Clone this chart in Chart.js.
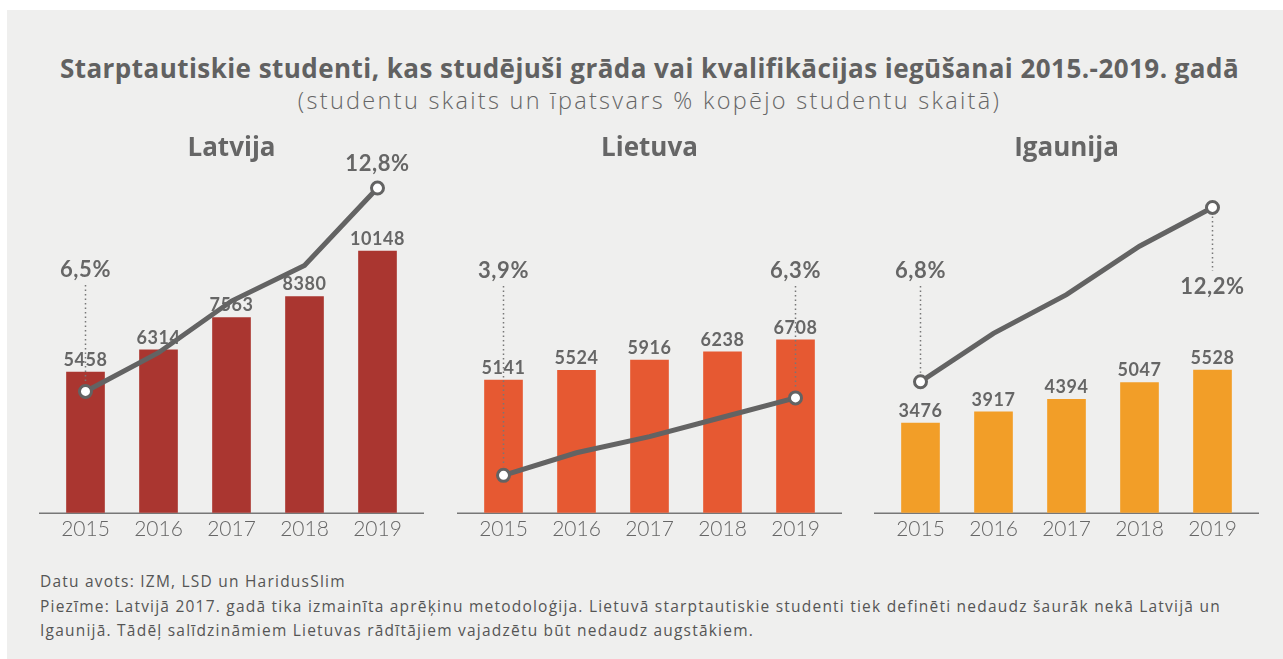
<!DOCTYPE html>
<html>
<head>
<meta charset="utf-8">
<script src="https://cdn.jsdelivr.net/npm/chart.js@4.4.1/dist/chart.umd.min.js"></script>
<style>
  body { margin: 0; width: 1283px; height: 659px; background: #fff; overflow: hidden; font-family: "Open Sans", Lato, sans-serif; color: #666; }
  #panel { position: absolute; left: 7px; top: 10px; width: 1276px; height: 649px; background: #efefee; }
  .t { position: absolute; white-space: nowrap; }
  #title { left: 16px; width: 1267px; top: 53px; line-height: 30px; font-size: 26px; font-weight: 700; text-align: center; color: #616161; letter-spacing: 0.45px; }
  #sub { left: 16px; width: 1267px; top: 85px; line-height: 30px; font-size: 23.5px; font-weight: 300; text-align: center; color: #666; letter-spacing: 2.3px; }
  #note { left: 40px; top: 569px; font-size: 15.5px; line-height: 24.5px; color: #555; letter-spacing: 1.22px; }
  canvas { position: absolute; top: 120px; }
</style>
</head>
<body>
<div id="panel"></div>
<div class="t" id="title">Starptautiskie studenti, kas studējuši grāda vai kvalifikācijas iegūšanai 2015.-2019. gadā</div>
<div class="t" id="sub">(studentu skaits un īpatsvars % kopējo studentu skaitā)</div>
<canvas id="lv" width="425" height="426" style="left:19px"></canvas>
<canvas id="lt" width="425" height="426" style="left:437px"></canvas>
<canvas id="ee" width="425" height="426" style="left:854px"></canvas>
<div class="t" id="note">Datu avots: IZM, LSD un HaridusSlim<br>Piezīme: Latvijā 2017. gadā tika izmainīta aprēķinu metodoloģija. Lietuvā starptautiskie studenti tiek definēti nedaudz šaurāk nekā Latvijā un<br>Igaunijā. Tādēļ salīdzināmiem Lietuvas rādītājiem vajadzētu būt nedaudz augstākiem.</div>
<script>
const years = ['2015', '2016', '2017', '2018', '2019'];

const lvStudents = [5458, 6314, 7563, 8380, 10148];
const lvShare = [6.5, 7.7, 9.3, 10.4, 12.8];
const ltStudents = [5141, 5524, 5916, 6238, 6708];
const ltShare = [3.9, 4.6, 5.1, 5.7, 6.3];
const eeStudents = [3476, 3917, 4394, 5047, 5528];
const eeShare = [6.8, 8.3, 9.5, 11.0, 12.2];

const countMax = 12900;
const shareMin = 2.74;
const shareMax = 13.05;

const grey = '#666666';
const font = 'Lato, "Open Sans", sans-serif';
const titleFont = '"Open Sans", Lato, sans-serif';

const fmtPct = v => v.toFixed(1).replace('.', ',') + '%';

// bar values, baseline, end-point percentages with dotted leaders
const labels = {
    id: 'labels',
    beforeDatasetsDraw(chart) {
    const a = chart.chartArea;
    const ctx = chart.ctx;
    ctx.save();
    ctx.strokeStyle = '#777';
    ctx.lineWidth = 1.5;
    ctx.beginPath();
    ctx.moveTo(a.left - 10, a.bottom + 0.5);
    ctx.lineTo(a.right + 10, a.bottom + 0.5);
    ctx.stroke();
    ctx.restore();
    },
    afterDatasetsDraw(chart, args, opts) {
    const ctx = chart.ctx;
    const bars = chart.getDatasetMeta(0).data;
    const pts = chart.getDatasetMeta(1).data;
    const shares = chart.data.datasets[1].data;
    ctx.save();
    ctx.fillStyle = grey;
    ctx.textAlign = 'center';
    ctx.textBaseline = 'middle';
    ctx.font = 'bold 18px ' + font;
    ctx.letterSpacing = '0.6px';
    bars.forEach((b, i) => ctx.fillText(chart.data.datasets[0].data[i], b.x, b.y - 12));

    opts.marks.forEach(m => {
        const p = pts[m.index];
        ctx.font = 'bold 22px ' + font;
        ctx.fillText(fmtPct(shares[m.index]), p.x, m.y);
        if (!m.dotted) return;
        ctx.save();
        ctx.strokeStyle = '#777';
        ctx.lineWidth = 1.5;
        ctx.setLineDash([1.5, 3]);
        ctx.beginPath();
        if (m.y < p.y) {
        ctx.moveTo(p.x, m.y + 15);
        ctx.lineTo(p.x, p.y - 9);
        } else {
        ctx.moveTo(p.x, p.y + 9);
        ctx.lineTo(p.x, m.y - 16);
        }
        ctx.stroke();
        ctx.restore();
    });
    ctx.restore();
    }
};

function makeChart(id, title, color, students, share, marks) {
    return new Chart(document.getElementById(id), {
    type: 'bar',
    data: {
        labels: years,
        datasets: [{
        data: students,
        backgroundColor: color,
        barThickness: 38,
        yAxisID: 'y',
        order: 2
        }, {
        type: 'line',
        data: share,
        yAxisID: 'y2',
        borderColor: '#636363',
        borderWidth: 5,
        tension: 0,
        pointRadius: [6, 0, 0, 0, 6],
        pointBackgroundColor: '#fff',
        pointBorderColor: '#636363',
        pointBorderWidth: 3,
        order: 1
        }]
    },
    options: {
        responsive: false,
        animation: false,
        devicePixelRatio: 1,
        layout: { padding: { left: 30, right: 30, top: 0, bottom: 0 } },
        plugins: {
        legend: { display: false },
        tooltip: { enabled: false },
        title: {
            display: true,
            text: title,
            color: grey,
            font: { family: titleFont, size: 26, weight: 'bold' },
            padding: { top: 13, bottom: 15.8 }
        },
        labels: { marks }
        },
        scales: {
        x: {
            grid: { display: false, drawTicks: false },
            border: { display: false },
            ticks: { color: grey, padding: 4, font: { family: font, size: 21, weight: 300 } }
        },
        y: { display: false, min: 0, max: countMax },
        y2: { display: false, min: shareMin, max: shareMax }
        }
    },
    plugins: [labels]
    });
}

makeChart('lv', 'Latvija', '#aa3630', lvStudents, lvShare,
    [{ index: 0, y: 150, dotted: true }, { index: 4, y: 44, dotted: false }]);
makeChart('lt', 'Lietuva', '#e65932', ltStudents, ltShare,
    [{ index: 0, y: 151, dotted: true }, { index: 4, y: 151, dotted: true }]);
makeChart('ee', 'Igaunija', '#f29e28', eeStudents, eeShare,
    [{ index: 0, y: 151, dotted: true }, { index: 4, y: 167, dotted: true }]);
</script>
</body>
</html>
